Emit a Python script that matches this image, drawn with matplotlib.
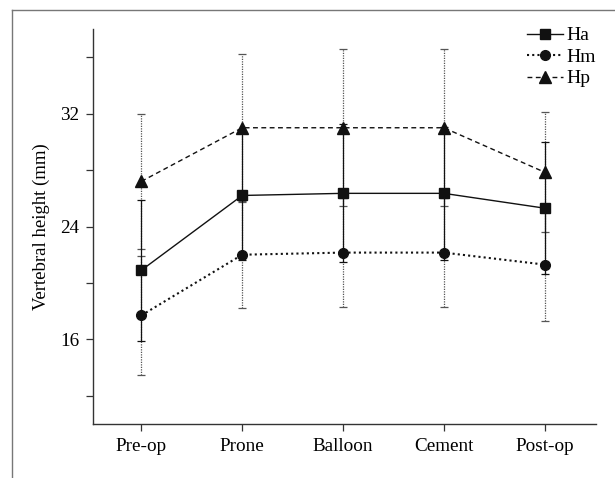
import matplotlib
matplotlib.use("Agg")
import matplotlib.pyplot as plt
from matplotlib.lines import Line2D

categories = ["Pre-op", "Prone", "Balloon", "Cement", "Post-op"]
ha_mean = [20.9, 26.2, 26.35, 26.35, 25.3]
ha_sd = [5.0, 4.6, 4.9, 4.7, 4.7]
hm_mean = [17.7, 22.0, 22.15, 22.15, 21.3]
hm_sd = [4.2, 3.8, 3.85, 3.85, 4.0]
hp_mean = [27.2, 31.0, 31.0, 31.0, 27.85]
hp_sd = [4.8, 5.25, 5.55, 5.55, 4.25]
yticks = [12, 16, 20, 24, 28, 32, 36]
ylabels = ["", "16", "", "24", "", "32", ""]

plt.rcParams['font.family'] = ['Liberation Serif', 'DejaVu Serif']

fig = plt.figure(figsize=(6.15, 4.78), dpi=100)
ax = fig.add_axes([93/615, 1-424/478, (596-93)/615, (424-29)/478])

x = list(range(len(categories)))

def eb(mean, sd, ls, color, z):
    cont = ax.errorbar(x, mean, yerr=sd, fmt='none', ecolor=color, elinewidth=0.9,
                       capsize=3.0, capthick=0.9, zorder=z)
    for lc in cont[2]:
        lc.set_linestyle(ls)
    return cont

eb(hm_mean, hm_sd, (0, (1, 1)), '#555555', 1)
eb(hp_mean, hp_sd, (0, (1, 1)), '#555555', 1)
eb(ha_mean, ha_sd, '-', '#111111', 2)

ax.plot(x, ha_mean, color='#111111', ls='-', lw=1.0, marker='s', ms=7.5, zorder=3)
ax.plot(x, hm_mean, color='#111111', ls=(0, (1, 1.5)), lw=1.5, marker='o', ms=7, zorder=3)
ax.plot(x, hp_mean, color='#111111', ls=(0, (3.5, 2.5)), lw=1.0, marker='^', ms=8, zorder=3)

ax.set_xlim(-0.48, 4.51)
ax.set_ylim(10, 38)
ax.set_xticks(x)
ax.set_xticklabels(categories, fontsize=13.8)
ax.set_yticks(yticks)
ax.set_yticklabels(ylabels, fontsize=13.8)
ax.tick_params(axis='both', direction='out', length=5, width=0.9, color='#333333', pad=5)
ax.set_ylabel("Vertebral height (mm)", fontsize=13.5, labelpad=7)
for s in ['top', 'right']:
    ax.spines[s].set_visible(False)
for s in ['left', 'bottom']:
    ax.spines[s].set_color('#333333')
    ax.spines[s].set_linewidth(1.0)

handles = [
    Line2D([], [], color='#111111', ls='-', lw=1.0, marker='s', ms=7.5),
    Line2D([], [], color='#111111', ls=(0, (1, 1.5)), lw=1.5, marker='o', ms=7),
    Line2D([], [], color='#111111', ls=(0, (3.5, 2.5)), lw=1.0, marker='^', ms=8),
]
ax.legend(handles, ["Ha", "Hm", "Hp"], loc='upper right', bbox_to_anchor=(1.035, 1.05),
          frameon=False, fontsize=14, handlelength=1.85, handletextpad=0.2,
          labelspacing=0.2, numpoints=1)

fig.add_artist(Line2D([12/615, 1.0], [1-10/478, 1-10/478], color='#777777', lw=1.0,
                      transform=fig.transFigure))
fig.add_artist(Line2D([12/615, 12/615], [0, 1-10/478], color='#777777', lw=1.0,
                      transform=fig.transFigure))

fig.savefig("out.png", dpi=100)
